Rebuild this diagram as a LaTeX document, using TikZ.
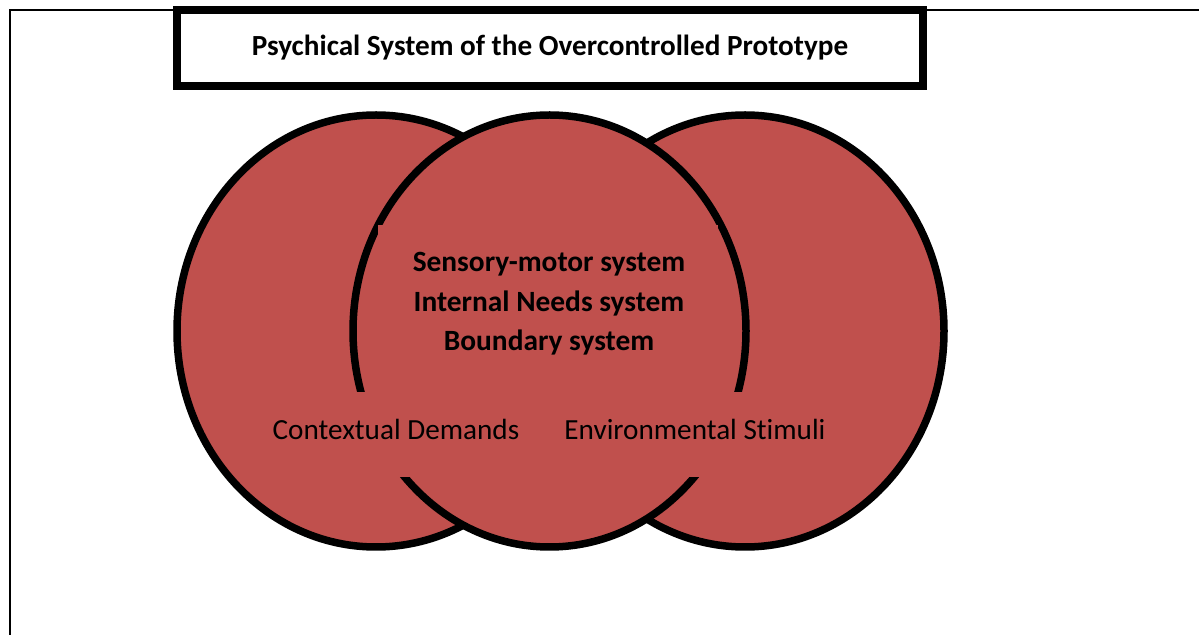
\documentclass[tikz,border=0pt]{standalone}
\usepackage{fontspec}
\setmainfont[Ligatures=NoCommon]{Carlito}
\definecolor{vennred}{HTML}{C0504D}

\begin{document}
\begin{tikzpicture}
        [x=0.5pt,y=-0.5pt,
         venn/.style={fill=vennred, draw=black, line width=3.75pt},
         cover/.style={fill=vennred},
         plain/.style={font=\fontsize{14.6}{19.5}\selectfont, inner sep=0pt},
         core/.style={font=\fontsize{14.7}{19.7}\selectfont\bfseries, align=center, inner sep=0pt}]
      \useasboundingbox (0,0) rectangle (1199,635);
      \draw[line width=0.75pt] (10,635) -- (10,10) -- (1199,10);
      \node[draw, line width=4pt, fill=white, minimum width=373pt, minimum height=38pt, inner sep=0pt,
            font=\fontsize{14.6}{17}\selectfont\bfseries] (title) at (550,48) {Psychical System of the Overcontrolled Prototype};

      \draw[venn] (376,331) ellipse [x radius=99.5pt, y radius=108pt];
      \draw[venn] (745,331) ellipse [x radius=99.5pt, y radius=108pt];
      \draw[venn] (549.5,331) ellipse [x radius=98.25pt, y radius=108pt];

      \fill[cover] (378,225) rectangle (718,392);
      \fill[cover] (262,392) rectangle (530,477);
      \fill[cover] (556,392) rectangle (836,477);

      \node[core] (systems) at (549,304) {Sensory-motor system\\Internal Needs system\\Boundary system};
      \node[plain] (context) at (396,429) {Contextual Demands};
      \node[plain] (stimuli) at (695,429) {Environmental Stimuli};
    \end{tikzpicture}
\end{document}
